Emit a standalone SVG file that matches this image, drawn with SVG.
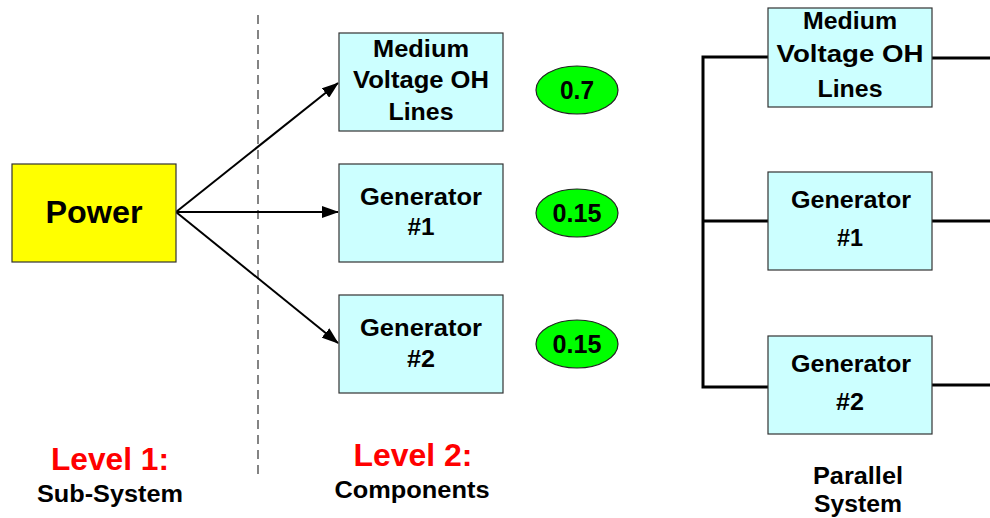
<svg xmlns="http://www.w3.org/2000/svg" width="990" height="518" viewBox="0 0 990 518">
<style>
text{font-family:"Liberation Sans",Arial,sans-serif;font-weight:bold;text-anchor:middle;fill:#000}
.box{fill:#CCFFFF;stroke:#333;stroke-width:1.2}
.ell{fill:#00FF00;stroke:#222;stroke-width:1.2}
.t{font-size:23px}
.n{font-size:25px}
.arrow{stroke:#000;stroke-width:2;fill:none;marker-end:url(#ah)}
.wire{stroke:#000;stroke-width:3;fill:none}
.red{fill:#FF0000;font-size:32px}
.sub{font-size:23px}
</style>
<defs>
<marker id="ah" markerWidth="17" markerHeight="12" refX="16" refY="6" orient="auto" markerUnits="userSpaceOnUse">
<path d="M0,0 L17,6 L0,12 Z" fill="#000"/>
</marker>
</defs>
<line x1="258" y1="15" x2="258" y2="476" stroke="#333" stroke-width="1.2" stroke-dasharray="9,6"/>
<g id="connectors">
<line class="arrow" x1="176" y1="212" x2="338" y2="83"/>
<line class="arrow" x1="176" y1="212" x2="338" y2="212"/>
<line class="arrow" x1="176" y1="212" x2="338" y2="343"/>
<polyline class="wire" points="768,57 703,57 703,387 768,387"/>
<line class="wire" x1="703" y1="221" x2="768" y2="221"/>
<line class="wire" x1="932" y1="58" x2="990" y2="58"/>
<line class="wire" x1="932" y1="221" x2="990" y2="221"/>
<line class="wire" x1="932" y1="385" x2="990" y2="385"/>
</g>
<g id="power">
<rect x="12" y="164" width="164" height="98" fill="#FFFF00" stroke="#333" stroke-width="1.2"/>
<text x="94" y="223" style="font-size:32px" textLength="97" lengthAdjust="spacingAndGlyphs">Power</text>
</g>
<g id="c-mv">
<rect class="box" x="339" y="33" width="164" height="98"/>
<text class="t" x="421" y="57" textLength="96" lengthAdjust="spacingAndGlyphs">Medium</text>
<text class="t" x="421" y="88" textLength="136" lengthAdjust="spacingAndGlyphs">Voltage OH</text>
<text class="t" x="421" y="120" textLength="65" lengthAdjust="spacingAndGlyphs">Lines</text>
</g>
<g id="c-g1">
<rect class="box" x="339" y="164" width="164" height="98"/>
<text class="t" x="421" y="205" textLength="122" lengthAdjust="spacingAndGlyphs">Generator</text>
<text class="t" x="421" y="235" textLength="27" lengthAdjust="spacingAndGlyphs">#1</text>
</g>
<g id="c-g2">
<rect class="box" x="339" y="295" width="164" height="98"/>
<text class="t" x="421" y="336" textLength="122" lengthAdjust="spacingAndGlyphs">Generator</text>
<text class="t" x="421" y="367" textLength="28" lengthAdjust="spacingAndGlyphs">#2</text>
</g>
<g id="e1"><ellipse class="ell" cx="577" cy="90" rx="41" ry="24"/><text class="n" x="577" y="99" textLength="34" lengthAdjust="spacingAndGlyphs">0.7</text></g>
<g id="e2"><ellipse class="ell" cx="577" cy="213" rx="41" ry="24"/><text class="n" x="577" y="222" textLength="49" lengthAdjust="spacingAndGlyphs">0.15</text></g>
<g id="e3"><ellipse class="ell" cx="577" cy="344" rx="41" ry="24"/><text class="n" x="577" y="353" textLength="49" lengthAdjust="spacingAndGlyphs">0.15</text></g>
<g id="p-mv">
<rect class="box" x="768" y="8" width="164" height="99"/>
<text class="t" x="850" y="29" textLength="94" lengthAdjust="spacingAndGlyphs">Medium</text>
<text class="t" x="850" y="62" textLength="147" lengthAdjust="spacingAndGlyphs">Voltage OH</text>
<text class="t" x="850" y="97" textLength="65" lengthAdjust="spacingAndGlyphs">Lines</text>
</g>
<g id="p-g1">
<rect class="box" x="768" y="172" width="164" height="98"/>
<text class="t" x="851" y="208" textLength="120" lengthAdjust="spacingAndGlyphs">Generator</text>
<text class="t" x="850" y="246" textLength="26" lengthAdjust="spacingAndGlyphs">#1</text>
</g>
<g id="p-g2">
<rect class="box" x="768" y="336" width="164" height="98"/>
<text class="t" x="851" y="372" textLength="120" lengthAdjust="spacingAndGlyphs">Generator</text>
<text class="t" x="850" y="410" textLength="28" lengthAdjust="spacingAndGlyphs">#2</text>
</g>
<g id="labels">
<text class="red" x="110" y="470" textLength="118" lengthAdjust="spacingAndGlyphs">Level 1:</text>
<text class="sub" x="110" y="502" textLength="146" lengthAdjust="spacingAndGlyphs">Sub-System</text>
<text class="red" x="413" y="466" textLength="119" lengthAdjust="spacingAndGlyphs">Level 2:</text>
<text class="sub" x="412" y="498" textLength="155" lengthAdjust="spacingAndGlyphs">Components</text>
<text class="sub" x="858" y="484" textLength="90" lengthAdjust="spacingAndGlyphs">Parallel</text>
<text class="sub" x="858" y="512" textLength="88" lengthAdjust="spacingAndGlyphs">System</text>
</g>
</svg>
